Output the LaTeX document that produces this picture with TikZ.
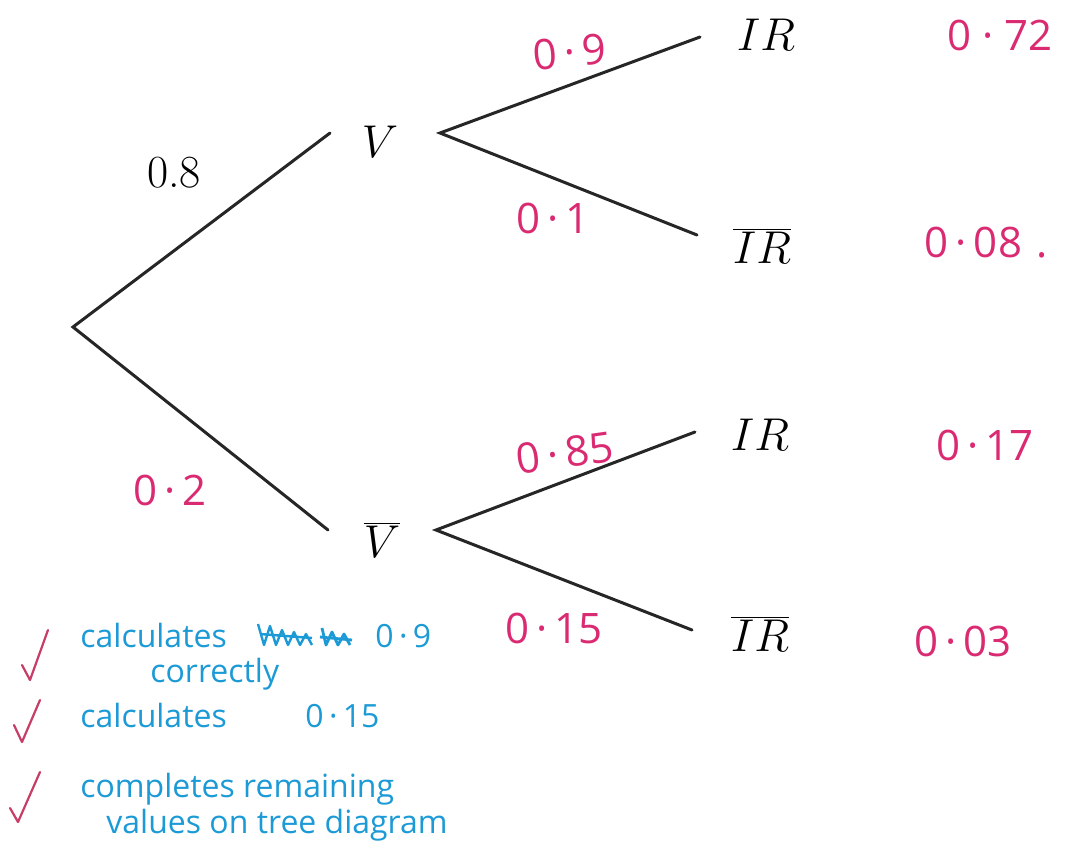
\RequirePackage{fix-cm}
\documentclass[tikz,border=0pt]{standalone}
\usepackage{fontspec}
\newfontfamily\handfont{Open Sans}
\usetikzlibrary{positioning}
\definecolor{markpink}{HTML}{D92A72}
\definecolor{notesblue}{HTML}{1C9AD6}
\definecolor{tickred}{HTML}{C73D66}

\begin{document}
\begin{tikzpicture}[
  x=0.5pt, y=-0.5pt,
  branch/.style={draw=black!85, line width=1.5pt, line cap=round},
  junction/.style={inner sep=0pt, outer sep=0pt, minimum height=0pt, label distance=0pt},
  eventtext/.style={inner sep=0pt, font=\fontsize{23}{26}\selectfont},
  given/.style={inner sep=0pt, font=\fontsize{23}{26}\selectfont},
  prob/.style={inner sep=0pt, text=markpink, font=\handfont\fontsize{21}{24}\selectfont},
  note/.style={anchor=base west, inner sep=0pt, text=notesblue, font=\handfont\fontsize{16}{19}\selectfont},
  tickmark/.style={draw=tickred, line width=1.1pt, line cap=round, line join=round}
]
\useasboundingbox (0,0) rectangle (1067,853);

% tree
\coordinate (root) at (73,327);
\node[junction, minimum width=55pt, label={[eventtext, xshift=-2.5pt, yshift=-4.5pt]center:$V$}] (V) at (385,133) {};
\node[junction, minimum width=54pt, label={[eventtext, yshift=-5pt]center:$\overline{V}$}] (Vb) at (382,530) {};
\node[junction, minimum width=66pt, label={[eventtext, yshift=1pt]center:$IR$}] (IRa) at (766,37) {};
\node[junction, minimum width=65pt, label={[eventtext, yshift=-5.5pt]center:$\overline{IR}$}] (IRab) at (762,235) {};
\node[junction, minimum width=65pt, label={[eventtext, yshift=-1.5pt]center:$IR$}] (IRb) at (760,432) {};
\node[junction, minimum width=68pt, label={[eventtext, yshift=-2pt]center:$\overline{IR}$}] (IRbb) at (760,630) {};

\draw[branch] (V.west) -- (root) -- (Vb.west);
\draw[branch] (IRa.west) -- (V.east) -- (IRab.west);
\draw[branch] (IRb.west) -- (Vb.east) -- (IRbb.west);

% branch probabilities
\node[given] (pV) at (174,173) {0.8};
\node[prob] (pVb) at (170,490) {0\,·\,2};
\node[prob, rotate=5] (pIRa) at (570,52) {0\,·\,9};
\node[prob] (pIRab) at (553,218) {0\,·\,1};
\node[prob, rotate=8] (pIRb) at (565,453) {0\,·\,85};
\node[prob] (pIRbb) at (554,628) {0\,·\,15};

% joint probabilities
\node[prob] (jIRa) at (1000,35) {0 · 72};
\node[prob] (jIRab) at (986,243) {0\,·\,08\,\,.};
\node[prob] (jIRb) at (985,445) {0\,·\,17};
\node[prob] (jIRbb) at (963,641) {0\,·\,03};

% marking notes
\node[note] (noteA) at (80,647) {calculates};
\node[note] (noteAval) at (375,647) {0\,·\,9};
\node[note] (noteAb) at (150,682) {correctly};
\node[note] (noteB) at (80,727) {calculates};
\node[note] (noteBval) at (305,727) {0\,·\,15};
\node[note] (noteC) at (80,797) {completes remaining};
\node[note] (noteCb) at (106,833) {values on tree diagram};

% crossed-out word
\draw[notesblue, line width=1.2pt, line join=round]
  (258,624) -- (264,645) -- (270,626) -- (276,645) -- (282,630) -- (288,645) -- (294,632) -- (300,645) -- (306,634) -- (312,645)
  (260,634) -- (312,638);
\draw[notesblue, line width=1.4pt, line join=round]
  (322,628) -- (326,645) -- (332,632) -- (338,645) -- (344,634) -- (350,645)
  (320,637) -- (352,640);

% ticks
\draw[tickmark] (22,665) -- (30,680) -- (48,630);
\draw[tickmark] (14,725) -- (22,742) -- (40,700);
\draw[tickmark] (10,808) -- (18,822) -- (40,772);

\end{tikzpicture}
\end{document}
